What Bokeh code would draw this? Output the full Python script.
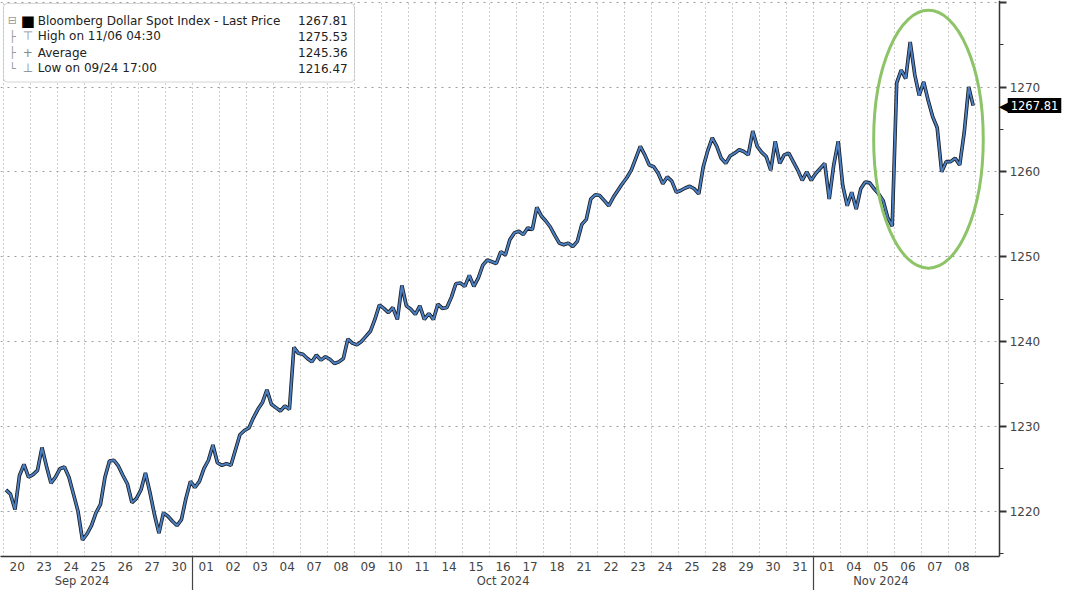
from bokeh.plotting import figure
from bokeh.models import Range1d, FixedTicker, LinearAxis, Label, BoxAnnotation
from bokeh.embed import file_html
from bokeh.resources import INLINE

# ---------------- data ----------------
sep_days = ["20", "23", "24", "25", "26", "27", "30"]
oct_days = ["01", "02", "03", "04", "07", "08", "09", "10", "11", "14", "15", "16",
            "17", "18", "21", "22", "23", "24", "25", "28", "29", "30", "31"]
nov_days = ["01", "04", "05", "06", "07", "08"]
months = ["Sep 2024", "Oct 2024", "Nov 2024"]

# six intraday readings per trading day
sep_prices = [
    1222.5, 1222.0, 1220.2, 1224.2, 1225.5, 1224.0,
    1224.3, 1224.8, 1227.5, 1225.3, 1223.3, 1224.0,
    1225.0, 1225.2, 1224.0, 1222.0, 1220.0, 1216.6,
    1217.3, 1218.3, 1219.8, 1220.8, 1224.0, 1225.9,
    1226.0, 1225.3, 1224.2, 1223.2, 1221.0, 1221.5,
    1222.5, 1224.5, 1222.2, 1219.6, 1217.4, 1219.8,
    1219.4, 1218.8, 1218.3, 1219.0, 1221.5, 1223.5,
]
oct_prices = [
    1222.8, 1223.5, 1225.0, 1226.0, 1227.8, 1225.7,
    1225.4, 1225.6, 1225.4, 1227.2, 1229.0, 1229.5,
    1229.8, 1231.0, 1232.0, 1232.8, 1234.3, 1232.6,
    1232.2, 1231.8, 1232.4, 1232.0, 1239.3, 1238.6,
    1238.5, 1238.0, 1237.6, 1238.4, 1237.8, 1238.2,
    1237.9, 1237.4, 1237.6, 1238.0, 1240.3, 1239.8,
    1239.6, 1240.0, 1240.6, 1241.2, 1242.6, 1244.3,
    1243.9, 1243.4, 1244.0, 1242.6, 1246.6, 1244.2,
    1243.8, 1243.2, 1244.2, 1242.6, 1243.3, 1242.6,
    1244.4, 1243.9, 1244.0, 1245.2, 1246.8, 1246.9,
    1246.5, 1247.8, 1246.5, 1247.5, 1249.0, 1249.6,
    1249.4, 1249.2, 1250.6, 1250.2, 1252.0, 1252.8,
    1253.0, 1252.6, 1253.4, 1253.2, 1255.8, 1254.8,
    1254.2, 1253.5, 1252.5, 1251.6, 1251.4, 1251.6,
    1251.2, 1251.8, 1253.8, 1254.4, 1256.8, 1257.3,
    1257.2, 1256.6, 1256.0, 1257.0, 1257.8, 1258.6,
    1259.3, 1260.2, 1261.6, 1263.0, 1262.0, 1260.8,
    1260.6, 1259.8, 1258.6, 1259.4, 1258.9, 1257.6,
    1257.8, 1258.1, 1258.3, 1258.0, 1257.4, 1260.6,
    1262.5, 1264.0, 1263.0, 1261.6, 1261.0, 1261.9,
    1262.2, 1262.6, 1262.4, 1262.0, 1264.8, 1263.0,
    1262.3, 1261.8, 1260.2, 1263.6, 1261.0, 1262.0,
    1262.2, 1261.2, 1260.2, 1259.0, 1260.0, 1259.0,
]
nov_prices = [
    1259.8, 1260.4, 1261.0, 1256.8, 1260.8, 1263.6,
    1258.4, 1256.0, 1257.6, 1255.6, 1258.0, 1258.8,
    1258.7, 1258.0, 1257.4, 1256.6, 1254.6, 1253.6,
    1270.5, 1272.0, 1271.0, 1275.3, 1271.5, 1269.0,
    1270.6, 1268.4, 1266.5, 1265.2, 1260.0, 1261.2,
    1261.2, 1261.6, 1260.8, 1264.6, 1270.0, 1267.81,
]

legend_names = ["Bloomberg Dollar Spot Index - Last Price", "High on 11/06 04:30",
                "Average", "Low on 09/24 17:00"]
legend_values = ["1267.81", "1275.53", "1245.36", "1216.47"]
last_price = 1267.81
y_major = [1220, 1230, 1240, 1250, 1260, 1270, 1280]
y_minor = [1215, 1225, 1235, 1245, 1255, 1265, 1275]

# ---------------- build ----------------
days = sep_days + oct_days + nov_days
prices = sep_prices + oct_prices + nov_prices
per_day = len(prices) // len(days)
xs = [i + (k + 0.5) / per_day for i in range(len(days)) for k in range(per_day)]

X0, XAX, X1 = -0.12, 36.9, 39.3      # left edge, price-axis position, right edge
Y0, Y1 = 1214.65, 1280.2

p = figure(width=1064, height=590, x_range=Range1d(X0, X1), y_range=Range1d(Y0, Y1),
           y_axis_location="right", output_backend="svg", toolbar_location=None,
           min_border_left=0, min_border_top=0, min_border_right=0)
p.outline_line_color = None
p.background_fill_color = "white"

FONT = "DejaVu Sans"

# grids
p.xgrid.ticker = FixedTicker(ticks=list(range(0, len(days) + 1)))
p.ygrid.ticker = FixedTicker(ticks=y_major)
for g in (p.xgrid, p.ygrid):
    g.grid_line_color = "#9c9c9c"
    g.grid_line_width = 1
p.xgrid.grid_line_dash = "1 3"
p.ygrid.grid_line_dash = "2 5"

# white strip right of the price axis (hides grid there)
p.add_layout(BoxAnnotation(left=XAX, fill_color="white", fill_alpha=1, line_color=None,
                           level="underlay"))

# y axis (right, drawn at a fixed location)
ya = p.yaxis[0]
ya.fixed_location = XAX
ya.ticker = FixedTicker(ticks=y_major, minor_ticks=y_minor)
ya.major_label_overrides = {1280: ""}
ya.axis_line_color = "#333333"
ya.axis_line_width = 1.5
ya.major_tick_out = 7
ya.major_tick_in = 0
ya.major_tick_line_width = 2
ya.major_tick_line_color = "#333333"
ya.minor_tick_out = 4
ya.minor_tick_in = 0
ya.minor_tick_line_color = "#333333"
ya.major_label_text_font = FONT
ya.major_label_text_font_size = "12px"
ya.major_label_text_color = "#444444"
ya.major_label_standoff = 3

# x axis: day labels
month_bounds = [len(sep_days), len(sep_days) + len(oct_days)]
centers = [i + 0.5 for i in range(len(days))]
xa = p.xaxis[0]
xa.bounds = (X0, XAX)
xa.ticker = FixedTicker(ticks=centers, minor_ticks=month_bounds)
xa.major_label_overrides = {c: d for c, d in zip(centers, days)}
xa.axis_line_color = "#333333"
xa.axis_line_width = 1.5
xa.major_tick_out = 0
xa.major_tick_in = 0
xa.minor_tick_in = 0
xa.minor_tick_out = 34
xa.minor_tick_line_color = "#444444"
xa.minor_tick_line_width = 1.2
xa.major_label_text_font = FONT
xa.major_label_text_font_size = "12px"
xa.major_label_text_color = "#444444"
xa.major_label_standoff = -29

# month labels
month_pos = [2.9, 18.5, 32.5]
ma = LinearAxis(ticker=FixedTicker(ticks=month_pos, minor_ticks=[]),
                major_label_overrides={m: t for m, t in zip(month_pos, months)})
ma.axis_line_color = None
ma.major_tick_line_color = None
ma.minor_tick_line_color = None
ma.major_tick_out = 0
ma.major_label_standoff = 0
ma.major_label_text_font = FONT
ma.major_label_text_font_size = "11.5px"
ma.major_label_text_color = "#444444"
p.add_layout(ma, "below")

# price line
p.line(xs, prices, line_color="#1a1a1a", line_width=3.6)
p.line(xs, prices, line_color="#4a7fc4", line_width=2.0)

# highlight ellipse
ell_x, ell_y, ell_w, ell_h = 34.26, 1263.84, 4.06, 30.4
p.ellipse(x=[ell_x], y=[ell_y], width=[ell_w], height=[ell_h], fill_color=None,
          line_color="#8dc468", line_width=3)

# last price tag
p.add_layout(Label(x=XAX, y=last_price, text="\u25C0", x_offset=-1, text_color="black",
                   text_baseline="middle", text_font=FONT, text_font_size="14px"))
p.add_layout(Label(x=XAX, y=last_price, text=f"{last_price:.2f}", x_offset=8,
                   text_color="white", text_baseline="middle", text_font=FONT,
                   text_font_size="11.5px", background_fill_color="black",
                   padding=3))

# legend box (positions in data units of the fixed ranges)
def px_x(px):
    return (px - 3.3) / 27.6

def px_y(py):
    return Y1 - py / 8.74

p.add_layout(BoxAnnotation(left=px_x(3), right=px_x(362), top=px_y(3), bottom=px_y(84),
                           fill_color="white", fill_alpha=1, line_color="#777777",
                           line_width=1, border_radius=4, level="annotation"))
rows_py = [21, 37, 54, 70]
icons = ["\u25A0", "\u22A4", "+", "\u22A5"]
tree = ["\u229F", "\u251C", "\u251C", "\u2514"]
for py, name, val, ic, tr in zip(rows_py, legend_names, legend_values, icons, tree):
    yy = px_y(py)
    p.add_layout(Label(x=px_x(12), y=yy, text=tr, text_align="center", text_baseline="middle",
                       text_color="#999999", text_font=FONT, text_font_size="11px"))
    p.add_layout(Label(x=px_x(28), y=yy, text=ic, text_align="center", text_baseline="middle",
                       text_color="black" if ic == "\u25A0" else "#888888",
                       text_font=FONT, text_font_size="15px" if ic == "\u25A0" else "12px"))
    p.add_layout(Label(x=px_x(38), y=yy, text=name, text_baseline="middle",
                       text_color="#222222", text_font=FONT, text_font_size="12px"))
    p.add_layout(Label(x=px_x(355), y=yy, text=val, text_align="right", text_baseline="middle",
                       text_color="#222222", text_font=FONT, text_font_size="12px"))

open("out.html", "w").write(file_html(p, INLINE))
